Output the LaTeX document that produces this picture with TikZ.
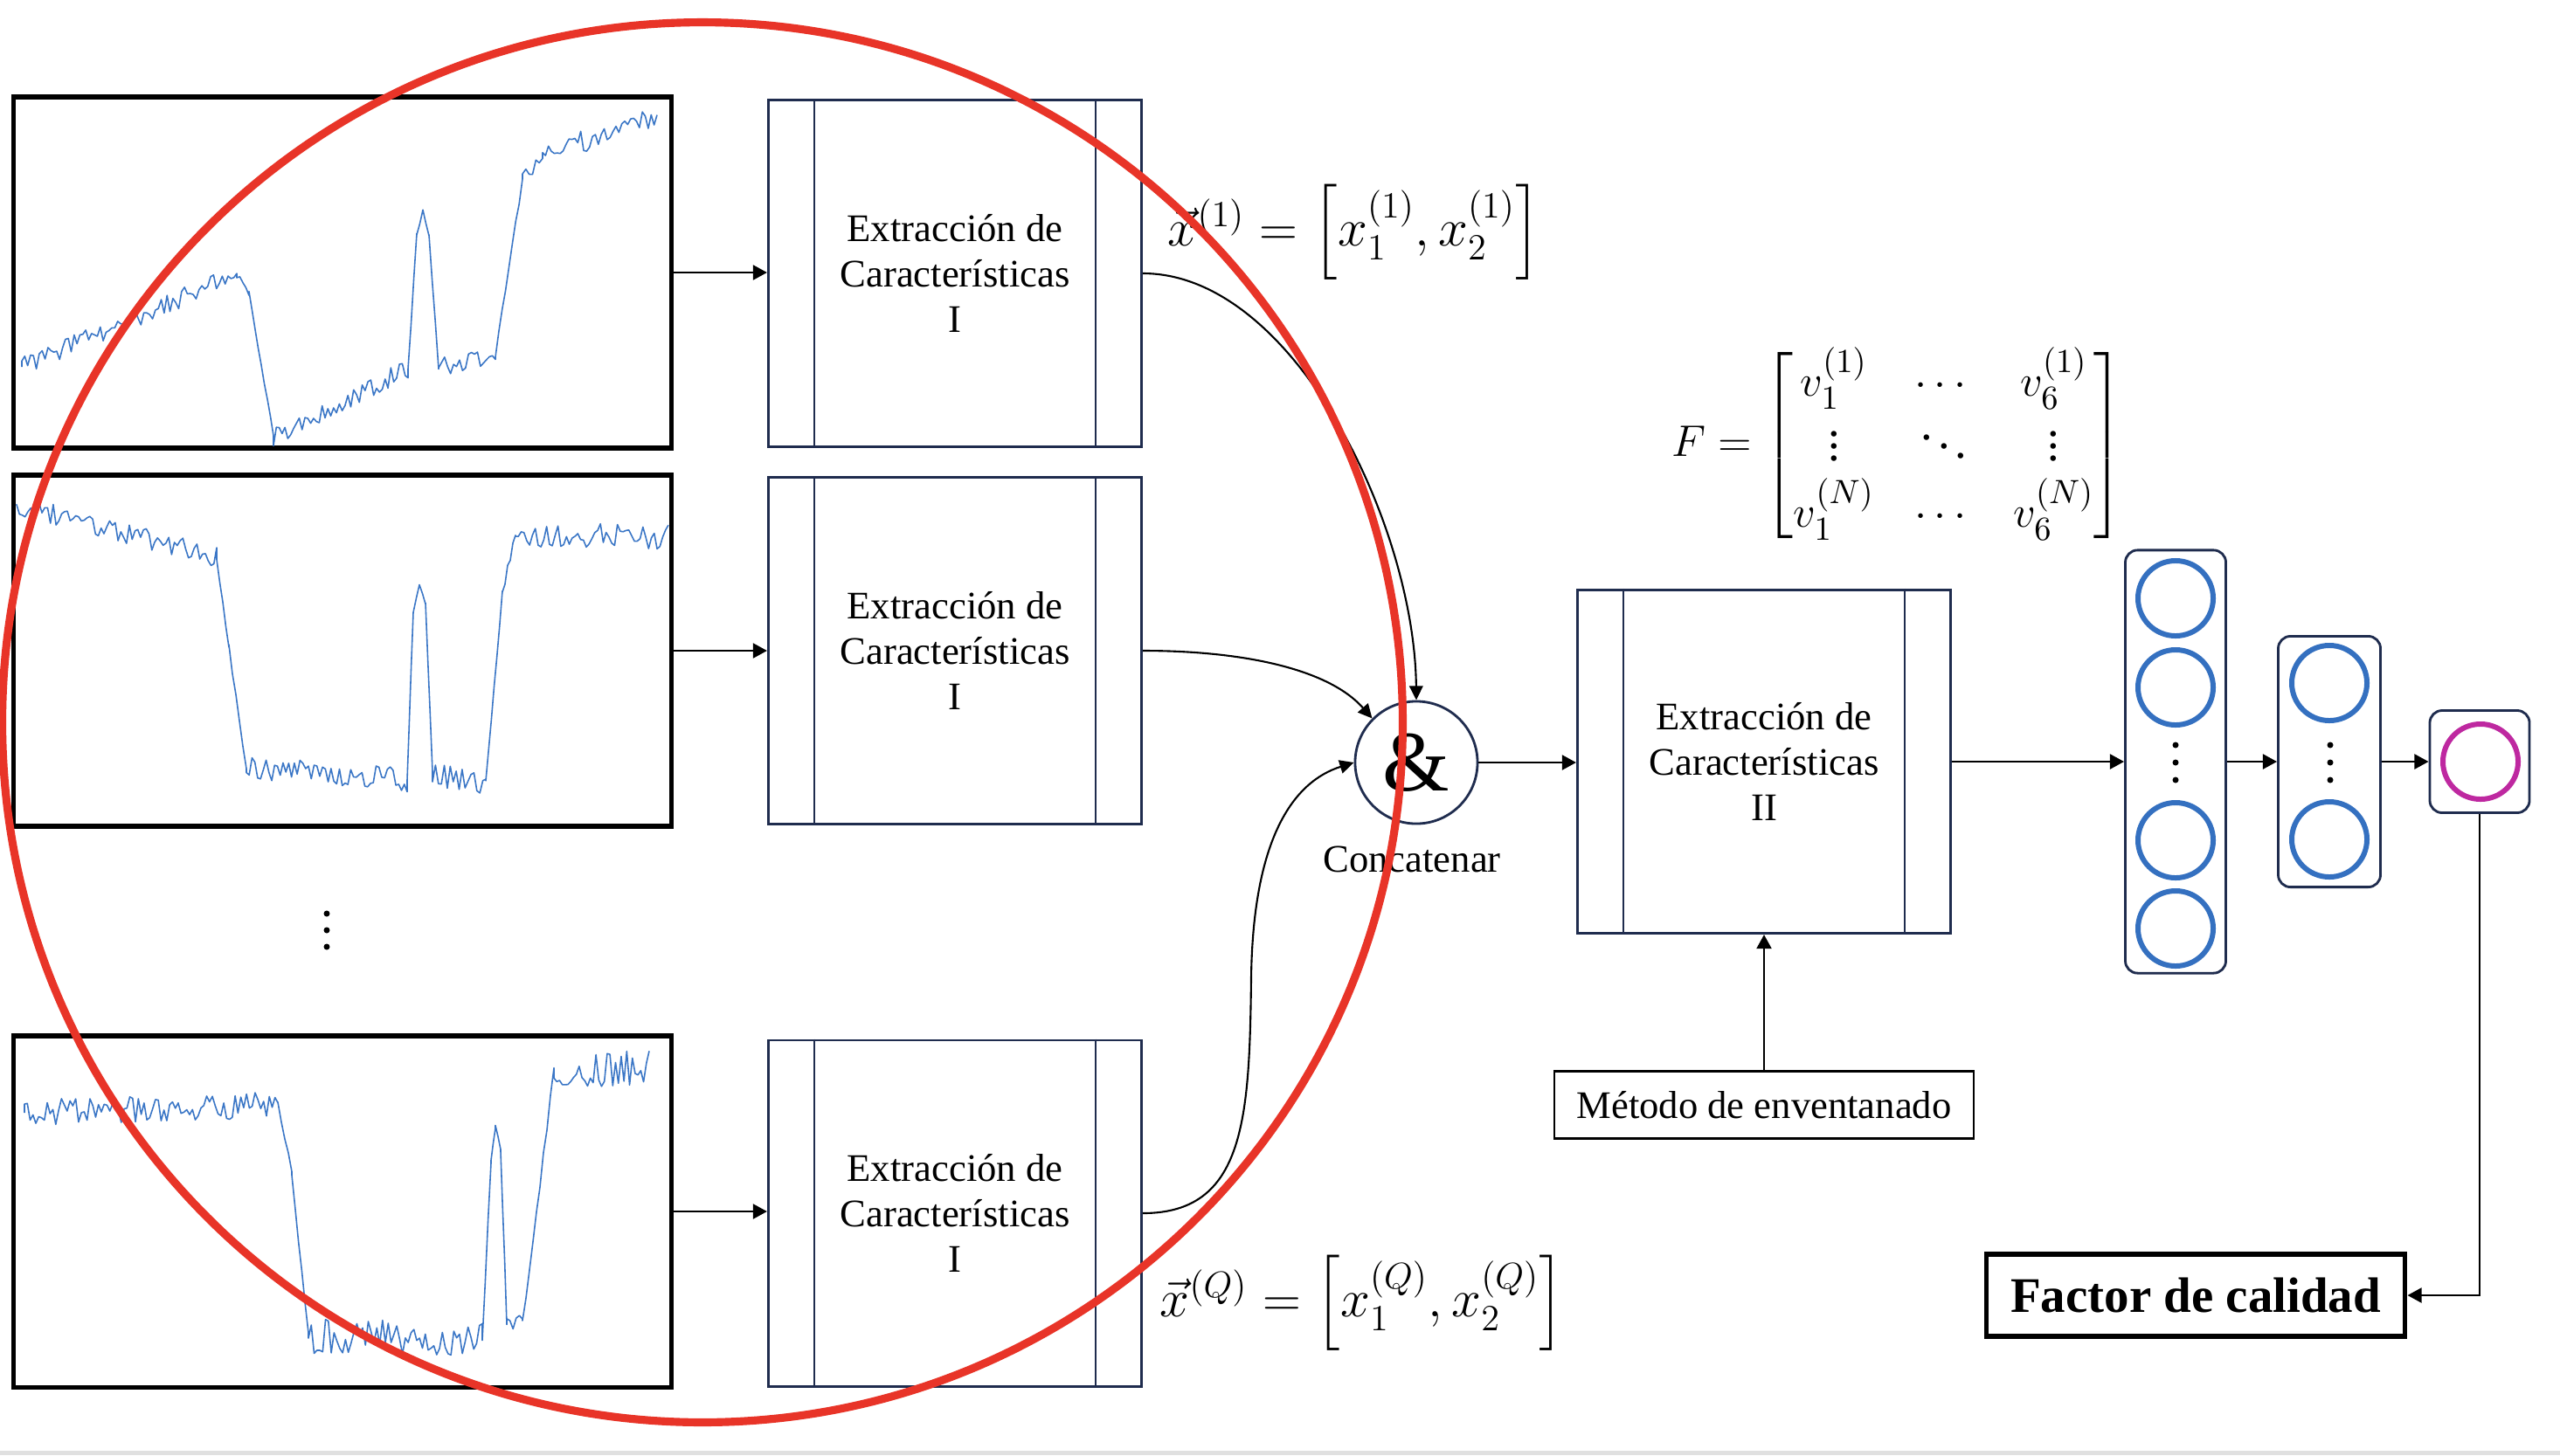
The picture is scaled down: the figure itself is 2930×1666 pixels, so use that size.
\documentclass[tikz,border=0pt]{standalone}
\usepackage{amsmath}
\usepackage{fontspec}
\setmainfont{Liberation Serif}
\usetikzlibrary{arrows.meta,calc}
\definecolor{navy}{RGB}{31,44,78}
\definecolor{sigblue}{RGB}{58,118,198}
\definecolor{nblue}{RGB}{52,112,192}
\definecolor{mag}{RGB}{190,40,160}
\definecolor{redc}{RGB}{232,52,40}
\begin{document}
\pgfmathsetseed{17}
\begin{tikzpicture}[x=0.01cm,y=-0.01cm,
  txt/.style={font=\fontsize{12.7}{14.9}\selectfont},
  sigbox/.style={draw=black,line width=1.5pt,minimum width=7.52cm,minimum height=4.02cm,inner sep=0pt},
  extbox/.style={draw=navy,line width=0.8pt,minimum width=4.27cm,minimum height=3.96cm,align=center,txt,inner sep=0pt},
  arr/.style={-{Triangle[length=4.6pt,width=4.8pt]},line width=0.8pt},
  carr/.style={-{Triangle[length=4.6pt,width=4.4pt]},line width=0.6pt},
  layer/.style={draw=navy,line width=0.8pt,rounded corners=4pt,inner sep=0pt},
  neuron/.style={circle,draw=nblue,line width=1.7pt,minimum size=0.86cm,inner sep=0pt},
  sig/.style={draw=sigblue,line width=0.45pt,line join=round},
  vdot/.style={fill=black,circle,inner sep=0pt,minimum size=0.07cm},
  mathlbl/.style={font=\fontsize{17}{20}\selectfont,inner sep=0pt}
]
\useasboundingbox (0,0) rectangle (2930,1666);
\fill[white] (0,0) rectangle (2930,1666);
\fill[black!12] (0,1661) rectangle (2930,1666);

% signal boxes
\node[sigbox] (s1) at (392,312) {};
\node[sigbox] (s2) at (392,745) {};
\node[sigbox] (s3) at (392,1387) {};

% signals
\draw[sig] (25,420) \foreach \xa/\ya/\xb/\yb/\n/\am in {
  25/420/271/314/75/11, 271/314/285/335/5/4, 285/335/313/500/9/4,
  313/500/467/422/48/11, 467/422/477/270/4/3, 477/270/484/242/3/2,
  484/242/491/268/3/2, 491/268/502/420/4/3, 502/420/567/405/20/11,
  567/405/598/205/9/5, 598/205/621/178/7/10, 621/178/752/133/40/13}
  { -- plot[domain=\xa:\xb,samples=\n] (\x,{\ya+(\x-\xa)/(\xb-\xa)*(\yb-\ya)+\am*rand}) };
\draw[sig] (19,578) \foreach \xa/\ya/\xb/\yb/\n/\am in {
  19/578/248/638/72/12, 248/638/262/740/5/4, 262/740/282/880/6/4,
  282/880/466/892/58/15, 466/892/473/700/4/3, 473/700/480/670/3/2,
  480/670/487/690/3/2, 487/690/495/885/4/3, 495/885/556/897/19/15,
  556/897/575/680/7/4, 575/680/590/612/6/6, 590/612/765/615/55/14}
  { -- plot[domain=\xa:\xb,samples=\n] (\x,{\ya+(\x-\xa)/(\xb-\xa)*(\yb-\ya)+\am*rand}) };
\draw[sig] (28,1274) \foreach \xa/\ya/\xb/\yb/\n/\am in {
  28/1274/318/1265/90/15, 318/1265/334/1343/5/4, 334/1343/353/1530/6/4,
  353/1530/552/1532/62/20, 552/1532/562/1330/4/4, 562/1330/567/1290/3/3,
  567/1290/573/1315/3/3, 573/1315/580/1515/4/4, 580/1515/598/1515/6/10,
  598/1515/634/1228/10/6, 634/1228/743/1222/35/20}
  { -- plot[domain=\xa:\xb,samples=\n] (\x,{\ya+(\x-\xa)/(\xb-\xa)*(\yb-\ya)+\am*rand}) };

% dots between signals
\node[vdot] (d1) at (374,1046) {};
\node[vdot] (d2) at (374,1065) {};
\node[vdot] (d3) at (374,1084) {};

% feature extraction I boxes
\node[extbox] (e1) at (1093,313) {Extracción de\\Características\\I};
\node[extbox] (e2) at (1093,745) {Extracción de\\Características\\I};
\node[extbox] (e3) at (1093,1389) {Extracción de\\Características\\I};
\node[extbox,minimum height=3.93cm] (b2) at (2019,872) {Extracción de\\Características\\II};
\foreach \e in {e1,e2,e3,b2}{
  \draw[navy,line width=0.8pt] ([xshift=0.54cm]\e.north west) -- ([xshift=0.54cm]\e.south west);
  \draw[navy,line width=0.8pt] ([xshift=-0.54cm]\e.north east) -- ([xshift=-0.54cm]\e.south east);
}

% arrows signals -> extraction
\draw[arr] (s1.east) -- (s1.east -| e1.west);
\draw[arr] (s2.east) -- (s2.east -| e2.west);
\draw[arr] (s3.east) -- (s3.east -| e3.west);

% labels
\node[mathlbl,anchor=west] (v1) at (1336,266) {$\vec{x}^{(1)} = \left[x_1^{(1)},x_2^{(1)}\right]$};
\node[mathlbl,anchor=west] (vQ) at (1327,1492) {$\vec{x}^{(Q)} = \left[x_1^{(Q)},x_2^{(Q)}\right]$};
\node[mathlbl,font=\fontsize{15.5}{18.5}\selectfont] (Fm) at (2172,510) {\setlength\arraycolsep{6.5pt}$F=\begin{bmatrix} v_1^{(1)} & \cdots & v_6^{(1)}\\ \vdots & \ddots & \vdots\\ v_1^{(N)} & \cdots & v_6^{(N)} \end{bmatrix}$};

% concatenate
\node[circle,draw=navy,line width=0.8pt,minimum size=1.40cm,inner sep=0pt,font=\fontsize{28}{30}\selectfont] (cat) at (1621,873) {\&};
\node[txt] (catl) at (1616,984) {Concatenar};

\draw[carr] (e1.east) .. controls (1480,313) and (1619,600) .. (cat.north);
\draw[carr] (e2.east) .. controls (1420,745) and (1520,765) .. (cat.135);
\draw[carr] (e3.east) .. controls (1425,1389) and (1430,1280) .. (1432,1120) .. controls (1434,960) and (1480,895) .. (cat.west);

\draw[arr] (cat.east) -- (cat.east -| b2.west);

% windowing method
\node[draw=black,line width=0.7pt,minimum width=4.80cm,minimum height=0.77cm,txt,inner sep=0pt] (met) at (2019,1265) {Método de enventanado};
\draw[arr] (met.north) -- (b2.south);

% network layers
\node[layer,minimum width=1.15cm,minimum height=4.84cm] (L1) at (2490,872) {};
\node[layer,minimum width=1.17cm,minimum height=2.87cm] (L2) at (2666,872) {};
\node[layer,minimum width=1.14cm,minimum height=1.17cm] (L3) at (2838,872) {};
\node[neuron] (n11) at (2490,685) {};
\node[neuron] (n12) at (2490,787) {};
\node[neuron] (n13) at (2490,962) {};
\node[neuron] (n14) at (2490,1063) {};
\node[neuron] (n21) at (2666,782) {};
\node[neuron] (n22) at (2666,961) {};
\node[neuron,draw=mag] (n31) at (2839,872) {};
\foreach \y [count=\i] in {853,873,893}{
  \node[vdot] (p1\i) at (2490,\y) {};
  \node[vdot] (p2\i) at (2667,\y) {};
}

\draw[arr] (b2.east) -- (b2.east -| L1.west);
\draw[arr] (L1.east) -- (L2.west);
\draw[arr] (L2.east) -- (L3.west);

% output
\node[draw=black,line width=1.6pt,minimum width=4.79cm,minimum height=0.94cm,inner sep=0pt,font=\fontsize{16.2}{19}\selectfont\bfseries] (fq) at (2513,1483) {Factor de calidad};
\draw[arr] (L3.south) |- (fq.east);

% red circle
\draw[redc,line width=2.6pt] (804,827) circle [radius=8.01cm];
\end{tikzpicture}
\end{document}
